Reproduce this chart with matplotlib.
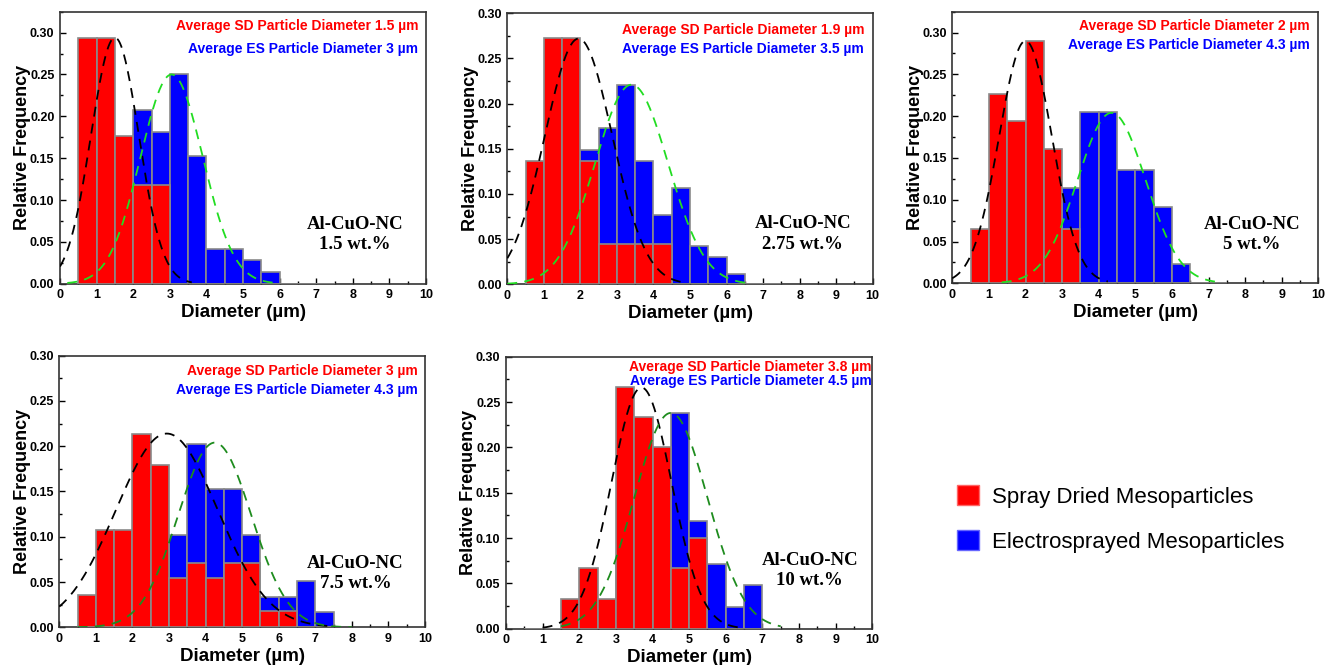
import numpy as np
import matplotlib
matplotlib.use("Agg")
import matplotlib.pyplot as plt
from matplotlib.patches import Patch
from matplotlib.ticker import MultipleLocator

# ---------------- data ----------------
bin_left = np.arange(0.5, 7.5, 0.5)   # 14 bins: 0.5..7.0 (width 0.5)
bin_width = 0.5

labels = ["1.5 wt.%", "2.75 wt.%", "5 wt.%", "7.5 wt.%", "10 wt.%"]
sd_means_text = ["1.5", "1.9", "2", "3", "3.8"]
es_means_text = ["3", "3.5", "4.3", "4.3", "4.5"]

# Spray dried (red) relative frequencies per bin
sd_15 = [0.294, 0.294, 0.176, 0.118, 0.118, 0, 0, 0, 0, 0, 0, 0, 0, 0]
sd_275 = [0.136, 0.273, 0.273, 0.136, 0.045, 0.045, 0.045, 0.045, 0, 0, 0, 0, 0, 0]
sd_5 = [0.065, 0.226, 0.194, 0.290, 0.161, 0.065, 0, 0, 0, 0, 0, 0, 0, 0]
sd_75 = [0.036, 0.107, 0.107, 0.214, 0.179, 0.054, 0.071, 0.054, 0.071, 0.071, 0.018, 0.018, 0, 0]
sd_10 = [0, 0, 0.033, 0.067, 0.033, 0.267, 0.233, 0.200, 0.067, 0.100, 0, 0, 0, 0]

# Electrosprayed (blue) relative frequencies per bin (drawn behind red)
es_15 = [0, 0.014, 0.069, 0.208, 0.181, 0.250, 0.153, 0.042, 0.042, 0.028, 0.014, 0, 0, 0]
es_275 = [0, 0.011, 0.040, 0.149, 0.173, 0.221, 0.137, 0.077, 0.107, 0.042, 0.030, 0.011, 0, 0]
es_5 = [0, 0, 0.023, 0.045, 0.023, 0.114, 0.205, 0.205, 0.136, 0.136, 0.091, 0.023, 0, 0]
es_75 = [0, 0.017, 0.017, 0.034, 0.068, 0.102, 0.203, 0.153, 0.153, 0.102, 0.034, 0.034, 0.051, 0.017]
es_10 = [0, 0, 0, 0.024, 0.024, 0.071, 0.119, 0.143, 0.238, 0.119, 0.071, 0.024, 0.048, 0]

sd_data = [sd_15, sd_275, sd_5, sd_75, sd_10]
es_data = [es_15, es_275, es_5, es_75, es_10]

# Gaussian fit parameters: (center, sigma, peak height, x start, x end)
sd_fit = [(1.5, 0.65, 0.294, 0.0, 3.6),
          (1.95, 0.92, 0.272, 0.0, 4.8),
          (2.0, 0.72, 0.290, 0.0, 4.25),
          (2.94, 1.39, 0.214, 0.0, 7.5),
          (3.7, 0.82, 0.266, 1.0, 6.5)]
es_fit = [(3.05, 0.85, 0.250, 0.2, 6.0),
          (3.4, 1.0, 0.221, 0.0, 6.55),
          (4.35, 0.93, 0.204, 1.35, 7.2),
          (4.25, 1.0, 0.204, 0.5, 8.0),
          (4.5, 1.0, 0.238, 1.5, 7.5)]
es_fit_colors = ["#22dd22", "#22dd22", "#22dd22", "#1e8c1e", "#1e8c1e"]

# ---------------- layout ----------------
W, H = 1326, 665
# axes rectangles in pixels: left, right, top, bottom
axes_px = [(60, 426, 11.7, 283.7),
           (507.3, 872.7, 13.3, 284.3),
           (952.3, 1318.3, 11.7, 283.3),
           (59.3, 425, 355.7, 627.3),
           (506, 872.3, 356.7, 628.7)]
ytops = [0.325, 0.30, 0.325, 0.30, 0.30]
text_y = [(26, 49), (30, 49), (26, 45), (371, 390), (367.3, 380.7)]
text_right = [418, 864, 1310, 418, 871.5]
nc_pos = [(0.806, 0.181), (0.809, 0.186), (0.818, 0.180), (0.81, 0.199), (0.829, 0.213)]

plt.rcParams['font.family'] = ['Liberation Sans', 'DejaVu Sans']
fig = plt.figure(figsize=(W / 100, H / 100), dpi=100)

for i in range(5):
    l, r, t, b = axes_px[i]
    ax = fig.add_axes([l / W, 1 - b / H, (r - l) / W, (b - t) / H])
    centers = bin_left + bin_width / 2
    ax.bar(centers, es_data[i], width=bin_width, color="#0000ff",
           edgecolor="#8a8a8a", linewidth=1.2, zorder=2)
    ax.bar(centers, sd_data[i], width=bin_width, color="#ff0000",
           edgecolor="#8a8a8a", linewidth=1.2, zorder=3)
    mu, s, h, x0, x1 = sd_fit[i]
    xs = np.linspace(x0, x1, 300)
    ax.plot(xs, h * np.exp(-(xs - mu) ** 2 / (2 * s ** 2)), color="black",
            lw=1.3, dashes=(5.5, 4), zorder=4)
    mu, s, h, x0, x1 = es_fit[i]
    xs = np.linspace(x0, x1, 300)
    ax.plot(xs, h * np.exp(-(xs - mu) ** 2 / (2 * s ** 2)), color=es_fit_colors[i],
            lw=1.3, dashes=(5.5, 4), zorder=4)

    ax.set_xlim(0, 10)
    ax.set_ylim(0, ytops[i])
    ax.xaxis.set_major_locator(MultipleLocator(1))
    ax.xaxis.set_minor_locator(MultipleLocator(0.5))
    ax.yaxis.set_major_locator(MultipleLocator(0.05))
    ax.yaxis.set_minor_locator(MultipleLocator(0.025))
    ax.yaxis.set_major_formatter(matplotlib.ticker.FormatStrFormatter('%.2f'))
    ax.tick_params(which='both', direction='in', top=False, right=False)
    ax.tick_params(which='major', length=4, width=1, labelsize=9, pad=4)
    ax.tick_params(which='minor', length=2, width=1)
    for lab in ax.get_xticklabels() + ax.get_yticklabels():
        lab.set_fontweight('bold')
    for sp in ax.spines.values():
        sp.set_linewidth(1.2)
        sp.set_color("#333333")
    ax.set_xlabel("Diameter (\u00b5m)", fontsize=13.5, fontweight='bold', labelpad=2)
    ax.set_ylabel("Relative Frequency", fontsize=13, fontweight='bold', labelpad=-1)

    fig.text(text_right[i] / W, 1 - text_y[i][0] / H,
             "Average SD Particle Diameter " + sd_means_text[i] + " \u00b5m",
             color="#ff0000", fontsize=10, fontweight='bold', ha='right', va='center')
    fig.text(text_right[i] / W, 1 - text_y[i][1] / H,
             "Average ES Particle Diameter " + es_means_text[i] + " \u00b5m",
             color="#0000ff", fontsize=10, fontweight='bold', ha='right', va='center')
    ax.text(nc_pos[i][0], nc_pos[i][1], "Al-CuO-NC\n" + labels[i],
            transform=ax.transAxes, ha='center', va='center', fontsize=13.5,
            fontweight='bold', family=['Liberation Serif', 'DejaVu Serif'],
            linespacing=1.25)

handles = [Patch(facecolor="#ff0000", edgecolor="#ff6666", label="Spray Dried Mesoparticles"),
           Patch(facecolor="#0000ff", edgecolor="#6666ff", label="Electrosprayed Mesoparticles")]
fig.legend(handles=handles, loc='center left', bbox_to_anchor=(948 / W, 1 - 519 / H),
           frameon=False, fontsize=16, handlelength=1.0, handleheight=1.0,
           handletextpad=0.6, labelspacing=1.0, borderaxespad=0)

fig.savefig("out.png", dpi=100)
